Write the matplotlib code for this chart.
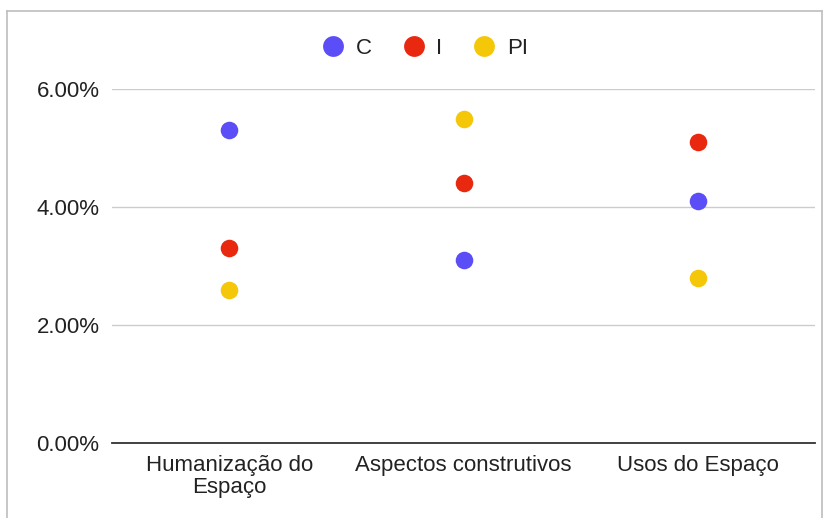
import matplotlib.pyplot as plt
from matplotlib.lines import Line2D
from matplotlib.ticker import FuncFormatter

plt.rcParams['font.family'] = ['Liberation Sans', 'DejaVu Sans']

categorias = ['Humanização do\nEspaço', 'Aspectos construtivos', 'Usos do Espaço']
series = ['C', 'I', 'PI']
valores_c = [5.3, 3.1, 4.1]
valores_i = [3.3, 4.4, 5.1]
valores_pi = [2.6, 5.5, 2.8]
cores = ['#5b4ef6', '#e9290f', '#f4c708']
yticks = [0, 2, 4, 6]

fig = plt.figure(figsize=(8.25, 5.18), dpi=100)
ax = fig.add_axes([112 / 825, 1 - 443 / 518, 703 / 825, 354 / 518])

xs = [i + 0.5 for i in range(len(categorias))]
for vals, cor in zip([valores_c, valores_i, valores_pi], cores):
    ax.scatter(xs, vals, s=160, color=cor, zorder=3, linewidths=0)

ax.set_xlim(0, 3)
ax.set_ylim(0, 6)
ax.set_yticks(yticks)
ax.yaxis.set_major_formatter(FuncFormatter(lambda v, p: f'{v:.2f}%'))
ax.set_xticks(xs)
ax.set_xticklabels(categorias, fontsize=16, color='#222222', linespacing=1.05)
ax.tick_params(axis='y', labelsize=16, colors='#222222', length=0, pad=9)
ax.tick_params(axis='x', length=0, pad=9)
ax.grid(axis='y', color='#cccccc', linewidth=1)
for s in ['top', 'right', 'left']:
    ax.spines[s].set_visible(False)
ax.spines['bottom'].set_color('#333333')
ax.spines['bottom'].set_linewidth(1.3)
ax.set_axisbelow(True)

# legend row above the plot area
handles = [Line2D([], [], marker='o', linestyle='', markersize=15, color=c, markeredgewidth=0)
           for c in cores]
fig.legend(handles, series, loc='center', bbox_to_anchor=(425 / 825, 1 - 48 / 518),
           ncol=3, frameon=False, fontsize=16, handletextpad=0.5, columnspacing=1.4,
           handlelength=1.0, labelcolor='#222222')

# outer frame of the chart
fig.add_artist(Line2D([7 / 825, 822 / 825], [1 - 11 / 518, 1 - 11 / 518], color='#bdbdbd', lw=1.2))
fig.add_artist(Line2D([7 / 825, 7 / 825], [0, 1 - 11 / 518], color='#bdbdbd', lw=1.2))
fig.add_artist(Line2D([822 / 825, 822 / 825], [0, 1 - 11 / 518], color='#bdbdbd', lw=1.2))

fig.savefig('out.png', dpi=100)
